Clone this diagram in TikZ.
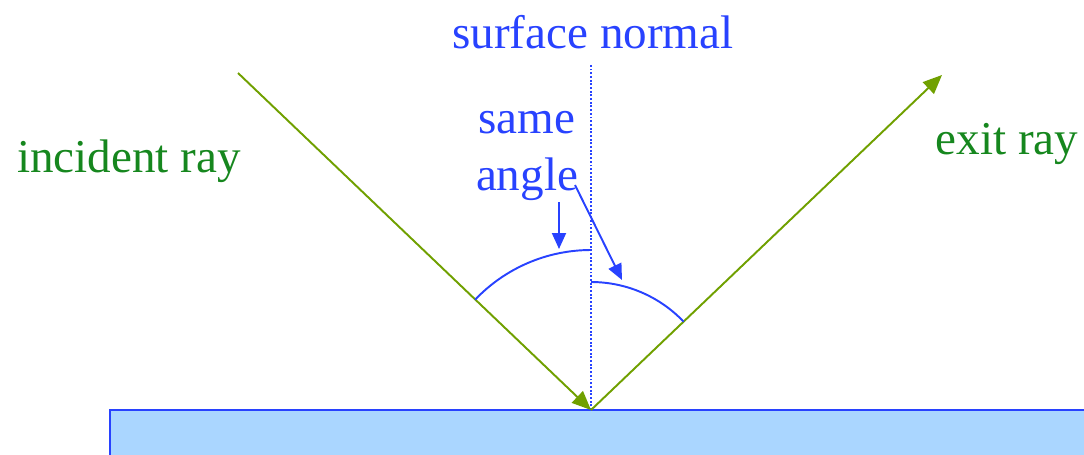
\documentclass[tikz,border=0pt]{standalone}
\usepackage{fontspec}
\setmainfont{Liberation Serif}
\usetikzlibrary{arrows.meta,calc}

\definecolor{normalblue}{RGB}{40,66,255}
\definecolor{raygreen}{RGB}{112,160,0}
\definecolor{labelgreen}{RGB}{22,135,30}
\definecolor{surfacefill}{RGB}{170,214,255}

\begin{document}
\begin{tikzpicture}[
    font=\fontsize{26.8}{32}\selectfont,
    ray/.style={draw=raygreen, line width=1.1pt, -{Triangle[length=0.38cm, width=0.32cm]}},
    anglearc/.style={draw=normalblue, line width=1.1pt},
    pointer/.style={draw=normalblue, line width=1.1pt, -{Triangle[length=0.32cm, width=0.28cm]}},
    bluetext/.style={text=normalblue, inner sep=0pt, align=center},
    greentext/.style={text=labelgreen, inner sep=0pt}
]
    \useasboundingbox (0,0) rectangle (21.68,9.08);

    % Mirror surface
    \draw[draw=normalblue, fill=surfacefill, line width=1.3pt] (2.2,-0.3) rectangle (22.0,0.88);

    % Key points
    \coordinate (hit) at (11.82,0.88);
    \coordinate (inc) at (4.76,7.62);
    \coordinate (ext) at (18.84,7.58);
    \coordinate (top) at (11.82,7.78);

    % Surface normal
    \draw[draw=normalblue, densely dotted, line width=1.1pt] (hit) -- (top);
    \node[bluetext] (normal) at (11.86,8.44) {surface normal};

    % Rays
    \draw[ray] (inc) -- (hit);
    \draw[ray] (hit) -- (ext);
    \node[greentext] (incident) at (2.58,5.86) {incident ray};
    \node[greentext] (exit) at (20.14,6.2) {exit ray};

    % Angles
    \draw[anglearc] ($(hit)+(90:3.2)$) arc (90:136.4:3.2);
    \draw[anglearc] ($(hit)+(90:2.56)$) arc (90:43.6:2.56);
    \node[bluetext] (same) at (10.54,5.96) {same\\angle};

    \coordinate (lefttip) at (11.18,4.1);
    \coordinate (righttip) at (12.44,3.48);
    \draw[pointer] (11.18,5.04) -- (lefttip);
    \draw[pointer] (11.5,5.38) -- (righttip);

\end{tikzpicture}
\end{document}
